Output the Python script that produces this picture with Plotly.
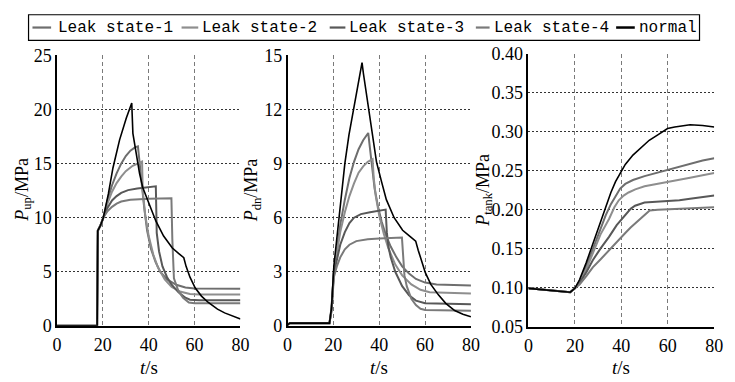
import plotly.graph_objects as go

# ---------------- data ----------------
series_names = ["Leak state-1", "Leak state-2", "Leak state-3", "Leak state-4", "normal"]

# P_up (MPa)
t_up_1 = [0, 17.5, 17.8, 19, 20.2, 22, 24, 26, 28, 30, 32, 34, 35.3, 36.5, 38, 39.3, 41, 43, 45, 48, 52, 56, 60, 80]
p_up_1 = [0, 0, 8.8, 9.3, 10.0, 11.6, 13.0, 14.1, 15.0, 15.7, 16.2, 16.5, 16.6, 14.0, 11.0, 8.8, 7.1, 5.9, 5.0, 4.3, 3.8, 3.55, 3.45, 3.42]
t_up_2 = [0, 17.5, 17.8, 19, 20.2, 22, 24, 26, 28, 30, 33, 36, 37.1, 37.4, 38.5, 40, 42, 44, 47, 50, 54, 58, 62, 80]
p_up_2 = [0, 0, 8.8, 9.3, 10.0, 11.3, 12.4, 13.2, 13.8, 14.3, 14.8, 15.1, 15.2, 12.5, 10.2, 8.3, 6.6, 5.4, 4.3, 3.6, 3.15, 2.95, 2.9, 2.9]
t_up_3 = [0, 17.5, 17.8, 19, 20.2, 22, 24, 26, 28, 31, 35, 40, 43.1, 43.5, 44.5, 46, 48, 50, 53, 56, 58, 62, 80]
p_up_3 = [0, 0, 8.8, 9.3, 10.0, 10.9, 11.6, 12.0, 12.3, 12.55, 12.7, 12.8, 12.9, 8.6, 6.9, 5.5, 4.5, 3.8, 3.1, 2.6, 2.42, 2.36, 2.36]
t_up_4 = [0, 17.5, 17.8, 19, 20.2, 22, 24, 26, 28, 32, 40, 49.9, 50.3, 51, 53, 55, 57.5, 60, 80]
p_up_4 = [0, 0, 8.8, 9.3, 10.0, 10.6, 11.0, 11.3, 11.5, 11.65, 11.75, 11.8, 8.0, 4.4, 3.2, 2.6, 2.15, 2.1, 2.1]
t_up_n = [0, 17.5, 17.8, 19, 20.2, 22.4, 24.4, 27.3, 30.2, 32.6, 33.1, 34.5, 36, 37.4, 40, 43.1, 46.5, 50.3, 53, 55.3, 56.3, 58, 60.3, 63, 66, 70, 73.1, 77, 80]
p_up_n = [0, 0, 8.8, 9.3, 10.0, 12.2, 14.6, 17.2, 19.2, 20.6, 17.8, 15.8, 14.1, 12.8, 11.4, 9.7, 8.3, 7.2, 6.7, 6.3, 5.5, 4.5, 3.5, 2.75, 2.16, 1.55, 1.2, 0.85, 0.64]

# P_dn (MPa)
t_dn_1 = [0, 1, 18.3, 19.2, 20.2, 21.5, 23, 25, 27, 29, 31, 33, 35.2, 36, 37, 38, 39.5, 41, 43, 45, 47.5, 50, 53, 56, 60, 65, 80]
p_dn_1 = [0.05, 0.15, 0.15, 1.0, 3.0, 4.3, 5.6, 7.0, 8.2, 9.1, 9.8, 10.3, 10.7, 9.8, 8.6, 7.6, 6.6, 5.8, 5.0, 4.4, 3.8, 3.3, 2.9, 2.6, 2.4, 2.3, 2.24]
t_dn_2 = [0, 1, 18.3, 19.2, 20.2, 21.5, 23, 25, 27, 29, 31, 33, 35, 37.1, 37.6, 38.5, 40, 42, 44, 47, 50, 54, 58, 62, 80]
p_dn_2 = [0.05, 0.15, 0.15, 1.0, 3.0, 4.1, 5.2, 6.3, 7.2, 7.9, 8.5, 8.85, 9.1, 9.25, 8.2, 7.2, 6.1, 5.1, 4.3, 3.4, 2.8, 2.3, 2.0, 1.87, 1.79]
t_dn_3 = [0, 1, 18.3, 19.2, 20.2, 21.5, 23, 25, 27, 29, 32, 36, 40, 42.8, 43.3, 44, 45, 47, 50, 53, 56, 60, 80]
p_dn_3 = [0.05, 0.15, 0.15, 0.9, 2.9, 3.7, 4.5, 5.2, 5.7, 6.0, 6.2, 6.3, 6.4, 6.45, 5.2, 4.4, 3.8, 3.0, 2.2, 1.7, 1.4, 1.25, 1.2]
t_dn_4 = [0, 1, 18.3, 19.2, 20.2, 21.5, 23, 25, 27, 30, 35, 40, 49.9, 50.4, 51, 52, 54, 56, 58, 60, 80]
p_dn_4 = [0.05, 0.15, 0.15, 0.8, 2.7, 3.3, 3.8, 4.25, 4.5, 4.7, 4.8, 4.85, 4.9, 3.7, 2.8, 2.2, 1.5, 1.15, 0.95, 0.88, 0.84]
t_dn_n = [0, 1, 18.3, 19.2, 20.2, 21.3, 22.4, 23.7, 25, 26.8, 28.8, 30.5, 32.5, 33.1, 35.2, 37, 38.8, 41, 43.1, 46.5, 50.2, 53, 55.9, 57, 58.5, 60.1, 62.5, 65.8, 69, 72.9, 76.5, 80]
p_dn_n = [0.05, 0.15, 0.15, 1.0, 3.3, 4.6, 6.0, 7.6, 9.0, 10.6, 12.0, 13.2, 14.6, 14.0, 12.1, 10.5, 9.1, 8.0, 7.0, 6.0, 5.3, 5.0, 4.7, 4.2, 3.6, 2.95, 2.3, 1.72, 1.25, 0.85, 0.65, 0.5]

# P_tank (MPa)
t_tk_1 = [0, 8, 18, 20, 22, 25, 27.7, 30.5, 33.3, 35.5, 37.5, 39.5, 41.7, 45, 50, 55, 59.9, 65, 69.6, 75, 80]
p_tk_1 = [0.099, 0.097, 0.094, 0.099, 0.108, 0.128, 0.150, 0.172, 0.193, 0.207, 0.218, 0.227, 0.233, 0.238, 0.243, 0.247, 0.251, 0.255, 0.259, 0.263, 0.266]
t_tk_2 = [0, 8, 18, 20, 22, 25, 27.7, 31, 34.7, 37, 38.9, 41, 43.1, 46, 50, 55, 59.9, 65, 69.6, 75, 80]
p_tk_2 = [0.099, 0.097, 0.094, 0.099, 0.107, 0.124, 0.145, 0.168, 0.188, 0.203, 0.212, 0.218, 0.222, 0.226, 0.230, 0.233, 0.236, 0.239, 0.241, 0.244, 0.247]
t_tk_3 = [0, 8, 18, 20, 22, 25, 27.7, 31, 34.7, 38, 41.7, 44, 45.9, 48, 50, 55, 59.9, 65, 69.6, 75, 80]
p_tk_3 = [0.099, 0.097, 0.094, 0.099, 0.106, 0.120, 0.135, 0.150, 0.165, 0.180, 0.193, 0.201, 0.205, 0.207, 0.209, 0.210, 0.211, 0.212, 0.214, 0.216, 0.218]
t_tk_4 = [0, 8, 18, 20, 22, 25, 27.7, 31, 34.7, 38, 41.7, 44, 47.3, 50, 52.2, 55.7, 60, 65, 69.6, 75, 80]
p_tk_4 = [0.099, 0.097, 0.094, 0.099, 0.104, 0.115, 0.126, 0.136, 0.148, 0.159, 0.170, 0.177, 0.186, 0.194, 0.199, 0.200, 0.2005, 0.201, 0.201, 0.202, 0.203]
t_tk_n = [0, 8, 18, 20, 22, 24.9, 27, 29.1, 31, 33.3, 35.5, 37.5, 40, 41.7, 45, 48.7, 52, 55.7, 59.9, 63, 66.8, 69.6, 75, 80]
p_tk_n = [0.099, 0.097, 0.094, 0.099, 0.110, 0.132, 0.150, 0.168, 0.186, 0.205, 0.222, 0.236, 0.250, 0.258, 0.270, 0.280, 0.289, 0.296, 0.304, 0.306, 0.308, 0.309, 0.308, 0.306]

x_ticks = [0, 20, 40, 60, 80]
y1_ticks = [0, 5, 10, 15, 20, 25]
y2_ticks = [0, 3, 6, 9, 12, 15]
y3_ticks = [0.05, 0.10, 0.15, 0.20, 0.25, 0.30, 0.35, 0.40]

# ---------------- styling ----------------
colors = ["#6e6e6e", "#8e8e8e", "#585858", "#7a7a7a", "#000000"]
widths = [2, 2, 2, 2, 1.6]
W, H = 735, 382
FONT = "Liberation Serif, Times New Roman, Tinos, DejaVu Serif, serif"
MONO = "Liberation Mono, Courier New, Cousine, DejaVu Sans Mono, monospace"

panels = [
    ([t_up_1, t_up_2, t_up_3, t_up_4, t_up_n], [p_up_1, p_up_2, p_up_3, p_up_4, p_up_n], "x", "y"),
    ([t_dn_1, t_dn_2, t_dn_3, t_dn_4, t_dn_n], [p_dn_1, p_dn_2, p_dn_3, p_dn_4, p_dn_n], "x2", "y2"),
    ([t_tk_1, t_tk_2, t_tk_3, t_tk_4, t_tk_n], [p_tk_1, p_tk_2, p_tk_3, p_tk_4, p_tk_n], "x3", "y3"),
]

fig = go.Figure()
for ts, vs, xa, ya in panels:
    for i in range(5):
        fig.add_trace(go.Scatter(x=ts[i], y=vs[i], mode="lines", xaxis=xa, yaxis=ya,
                                 name=series_names[i], showlegend=False,
                                 line=dict(color=colors[i], width=widths[i])))

def px_x(p):
    return p / W

def px_y(p):
    return 1 - p / H

xdoms = [(53, 240), (288, 475), (533.6, 723)]
ydoms = [(333.3, 48), (333.3, 48), (334, 46.2)]

tickfont = dict(family=FONT, size=18, color="black")
common_x = dict(range=[0, 80], tickvals=x_ticks, showline=True, linecolor="black", linewidth=1.5,
                showgrid=True, gridcolor="#7a7a7a", gridwidth=1, griddash="4px,3px",
                zeroline=False, ticks="outside", ticklen=2, tickcolor="rgba(0,0,0,0)",
                tickfont=tickfont, fixedrange=True)
common_y = dict(showline=True, linecolor="black", linewidth=1.5,
                showgrid=True, gridcolor="#333333", gridwidth=1, griddash="2px,2px",
                zeroline=False, ticks="", tickfont=tickfont, fixedrange=True)

layout = dict(width=W, height=H, margin=dict(l=0, r=0, t=0, b=0),
              paper_bgcolor="white", plot_bgcolor="white", showlegend=False,
              font=dict(family=FONT, color="black"))
yranges = [[0, 25], [0, 15], [0.05, 0.40]]
yticks = [y1_ticks, y2_ticks, y3_ticks]
for k in range(3):
    xs = "" if k == 0 else str(k + 1)
    layout["xaxis" + xs] = dict(common_x, domain=[px_x(xdoms[k][0]), px_x(xdoms[k][1])],
                                anchor="y" + xs)
    yd = dict(common_y, domain=[px_y(ydoms[k][0]), px_y(ydoms[k][1])], anchor="x" + xs,
              range=yranges[k], tickvals=yticks[k])
    if k == 2:
        yd["tickformat"] = ".2f"
    layout["yaxis" + xs] = yd
fig.update_layout(**layout)

ann = []
# axis titles
ytitles = ["<i>P</i><sub>up</sub>/MPa", "<i>P</i><sub>dn</sub>/MPa", "<i>P</i><sub>tank</sub>/MPa"]
ytitle_x = [18, 252, 488]
for k in range(3):
    ann.append(dict(text=ytitles[k], xref="paper", yref="paper", x=px_x(ytitle_x[k]), y=px_y(190),
                    textangle=-90, showarrow=False, xanchor="center", yanchor="middle",
                    font=dict(family=FONT, size=18, color="black")))
    cx = (xdoms[k][0] + xdoms[k][1]) / 2
    ann.append(dict(text="<i>t</i>/s", xref="paper", yref="paper", x=px_x(cx), y=px_y(377),
                    showarrow=False, xanchor="center", yanchor="middle", borderpad=0,
                    font=dict(family=FONT, size=19, color="black")))

# manual legend
shapes = [dict(type="rect", xref="paper", yref="paper", x0=px_x(24), x1=px_x(708),
               y0=px_y(32), y1=px_y(5), line=dict(color="black", width=1.2), fillcolor="white")]
leg_lines = [(28, 47), (180, 197), (331, 347), (480, 494), (623, 642)]
leg_text_x = [52, 199, 349, 496, 644]
for i in range(5):
    shapes.append(dict(type="line", xref="paper", yref="paper", x0=px_x(leg_lines[i][0]),
                       x1=px_x(leg_lines[i][1]), y0=px_y(18.5), y1=px_y(18.5),
                       line=dict(color=colors[i], width=2.5 if i == 4 else 2.2)))
    ann.append(dict(text=series_names[i], xref="paper", yref="paper", x=px_x(leg_text_x[i]),
                    y=px_y(18.5), showarrow=False, xanchor="left", yanchor="middle",
                    font=dict(family=MONO, size=16, color="black")))

fig.update_layout(annotations=ann, shapes=shapes)
fig.write_html("out.html")
